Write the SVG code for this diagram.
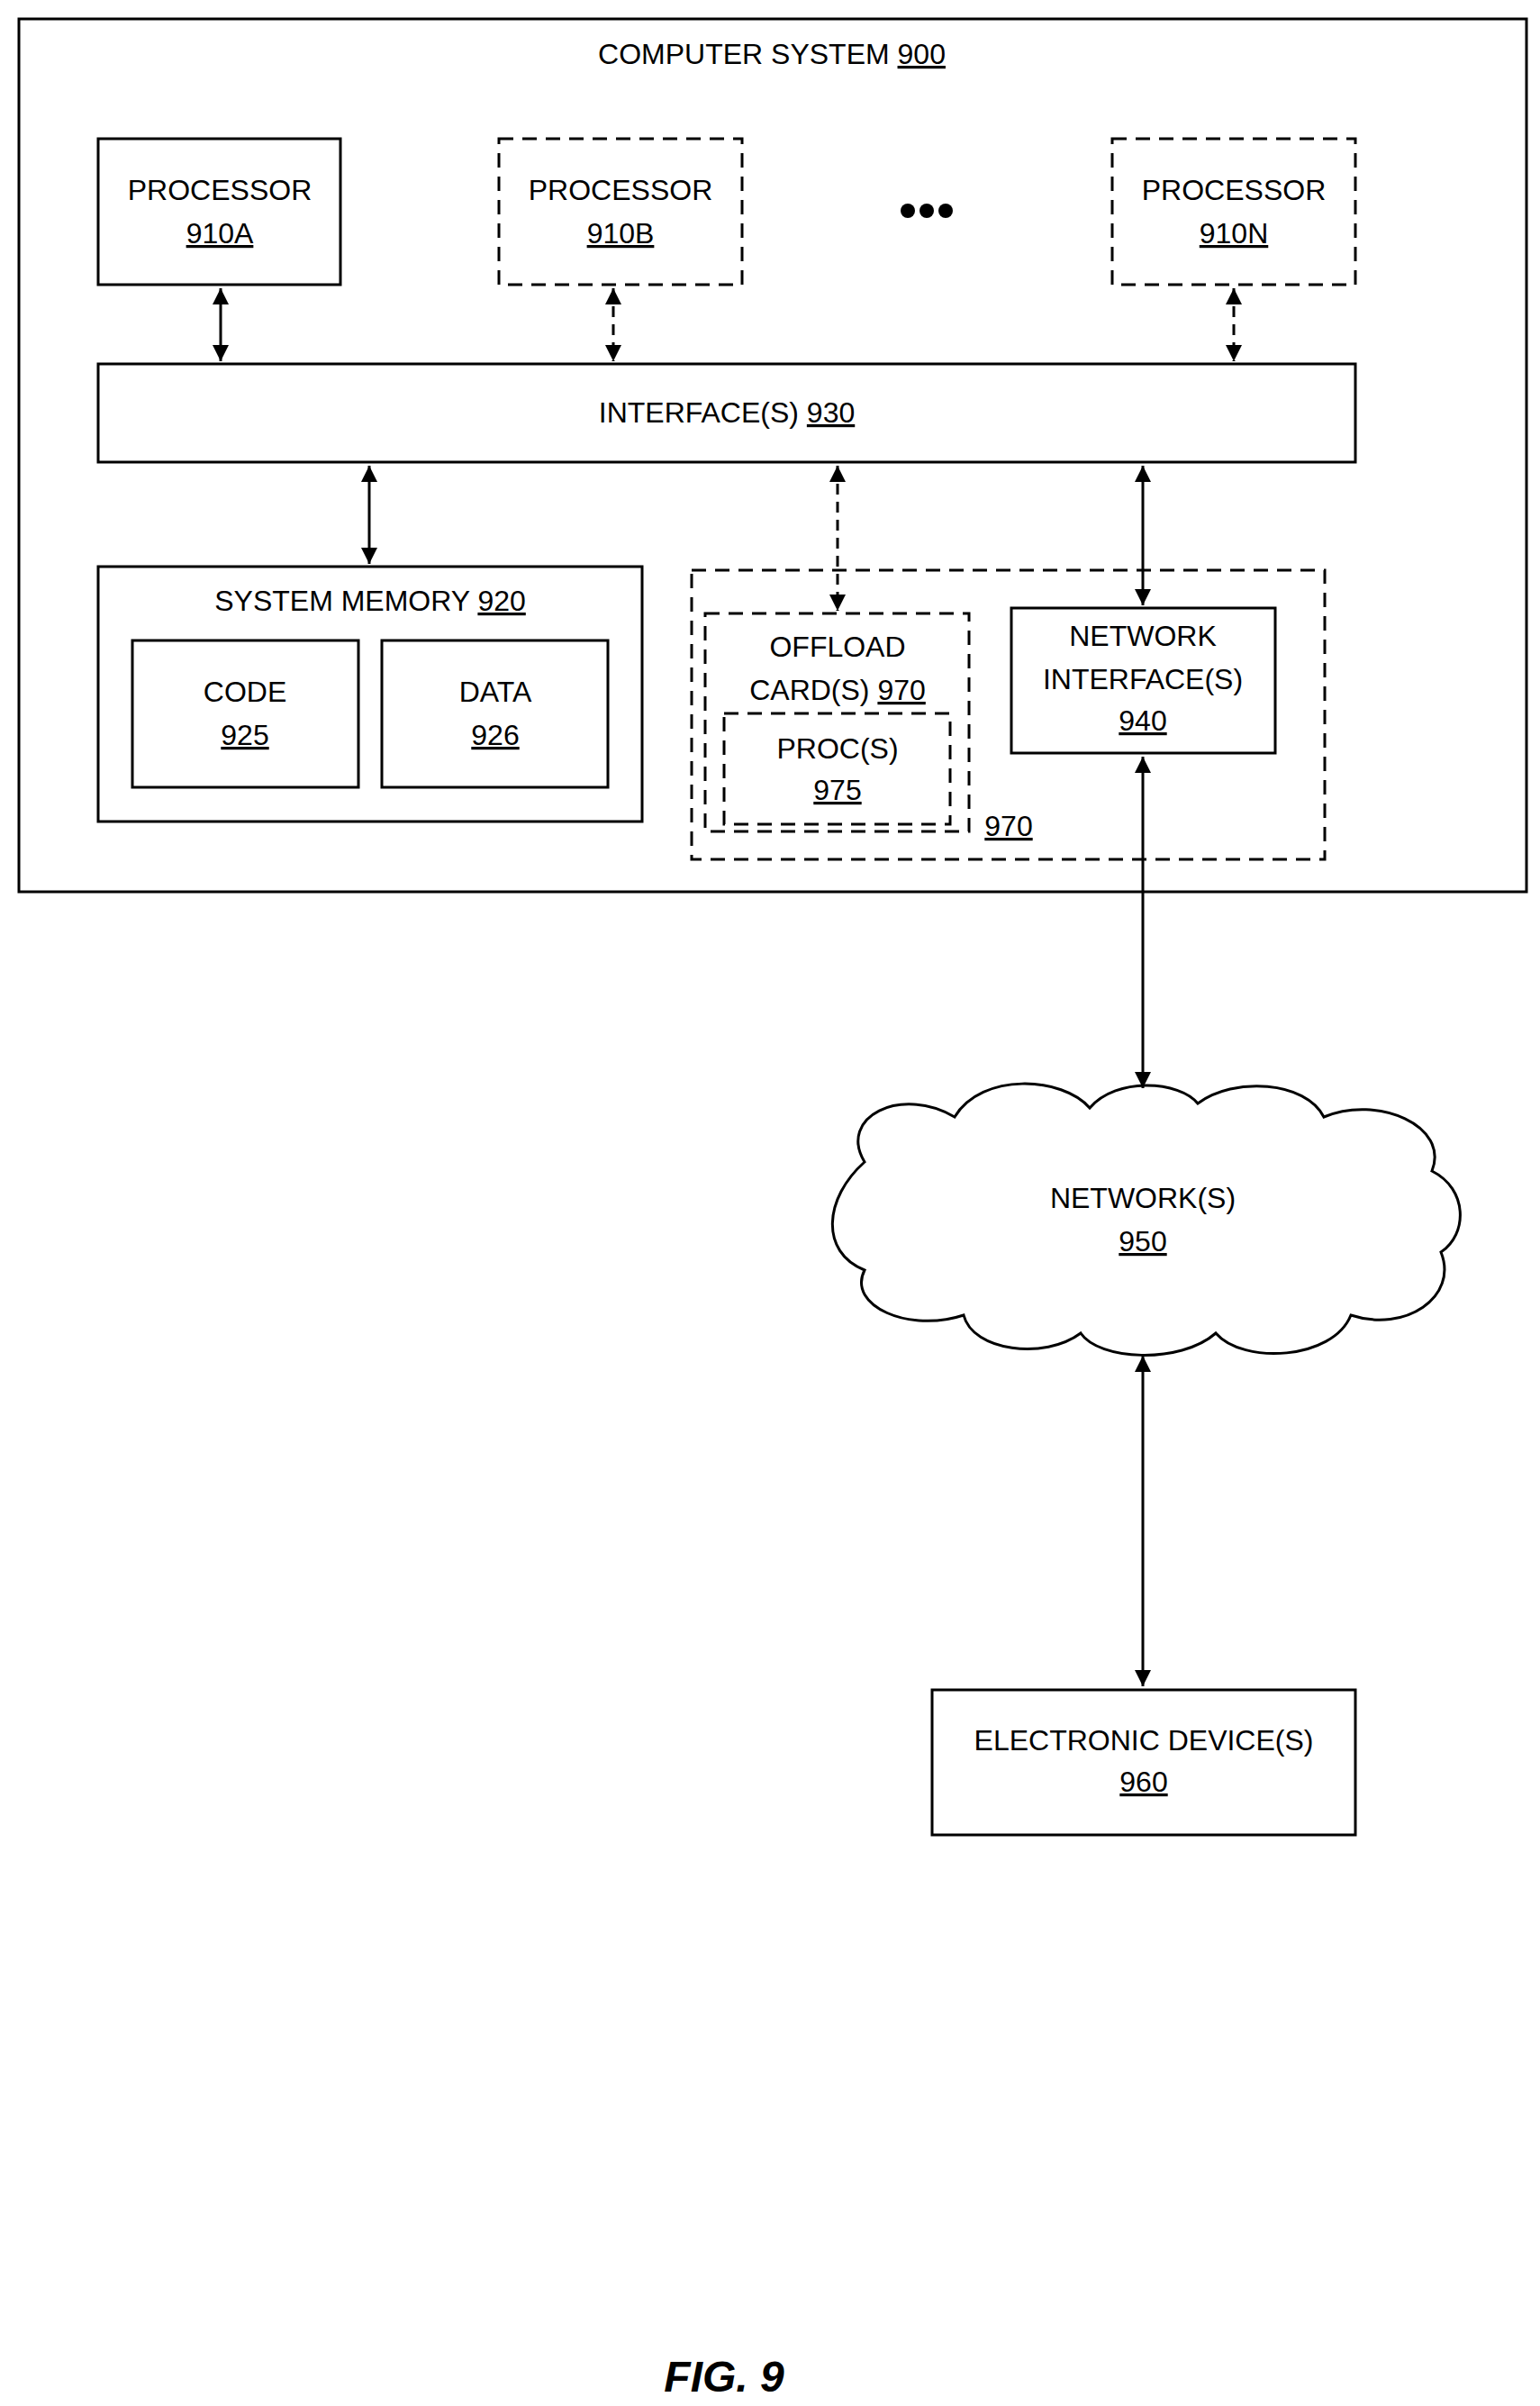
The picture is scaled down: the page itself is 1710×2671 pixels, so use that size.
<svg xmlns="http://www.w3.org/2000/svg" width="1710" height="2671" viewBox="0 0 1710 2671">
<style>
.b{fill:#fff;stroke:#000;stroke-width:3}
.d{fill:none;stroke:#000;stroke-width:3;stroke-dasharray:16 10}
.t{font-family:"Liberation Sans",Arial,sans-serif;font-size:32px;text-anchor:middle;fill:#000}
.u{text-decoration:underline}
.c{stroke:#000;stroke-width:3;fill:none;marker-start:url(#a);marker-end:url(#a)}
.cd{stroke-dasharray:12 8}
</style>
<defs><marker id="a" viewBox="0 0 10 10" refX="10" refY="5" markerWidth="6" markerHeight="8" orient="auto-start-reverse" markerUnits="strokeWidth"><path d="M0,0 L10,5 L0,10 Z" fill="#000"/></marker></defs>
<g id="computer-system"><rect class="b" x="21" y="21" width="1674" height="969"/><text class="t" x="857" y="71">COMPUTER SYSTEM <tspan class="u">900</tspan></text></g>
<g id="proc-a"><rect class="b" x="109" y="154" width="269" height="162"/><text class="t" x="244" y="222">PROCESSOR</text><text class="t u" x="244" y="270">910A</text></g>
<g id="proc-b"><rect class="d" x="554" y="154" width="270" height="162"/><text class="t" x="689" y="222">PROCESSOR</text><text class="t u" x="689" y="270">910B</text></g>
<g id="dots"><circle cx="1008" cy="234" r="8"/><circle cx="1029" cy="234" r="8"/><circle cx="1050" cy="234" r="8"/></g>
<g id="proc-n"><rect class="d" x="1235" y="154" width="270" height="162"/><text class="t" x="1370" y="222">PROCESSOR</text><text class="t u" x="1370" y="270">910N</text></g>
<g id="interface"><rect class="b" x="109" y="404" width="1396" height="109"/><text class="t" x="807" y="469">INTERFACE(S) <tspan class="u">930</tspan></text></g>
<g id="memory"><rect class="b" x="109" y="629" width="604" height="283"/><text class="t" x="411" y="678">SYSTEM MEMORY <tspan class="u">920</tspan></text>
<rect class="b" x="147" y="711" width="251" height="163"/><text class="t" x="272" y="779">CODE</text><text class="t u" x="272" y="827">925</text>
<rect class="b" x="424" y="711" width="251" height="163"/><text class="t" x="550" y="779">DATA</text><text class="t u" x="550" y="827">926</text></g>
<g id="offload-group"><rect class="d" x="768" y="633" width="703" height="321"/><text class="t u" x="1120" y="928">970</text>
<rect class="d" x="783" y="681" width="293" height="242"/><text class="t" x="930" y="729">OFFLOAD</text><text class="t" x="930" y="777">CARD(S) <tspan class="u">970</tspan></text>
<rect class="d" x="804" y="792" width="251" height="123"/><text class="t" x="930" y="842">PROC(S)</text><text class="t u" x="930" y="888">975</text></g>
<g id="netif"><rect class="b" x="1123" y="675" width="293" height="161"/><text class="t" x="1269" y="717">NETWORK</text><text class="t" x="1269" y="765">INTERFACE(S)</text><text class="t u" x="1269" y="811">940</text></g>
<g id="network"><path class="b" d="M960,1290 C930,1240 1000,1205 1060,1240 C1090,1190 1180,1195 1210,1230 C1240,1195 1310,1200 1330,1225 C1370,1195 1450,1200 1470,1240 C1530,1215 1610,1250 1590,1300 C1630,1320 1630,1370 1600,1390 C1620,1440 1560,1480 1500,1460 C1480,1510 1380,1515 1350,1480 C1310,1515 1220,1510 1200,1480 C1160,1510 1080,1500 1070,1460 C1010,1480 940,1450 960,1410 C910,1390 915,1330 960,1290 Z"/><text class="t" x="1269" y="1341">NETWORK(S)</text><text class="t u" x="1269" y="1389">950</text></g>
<g id="device"><rect class="b" x="1035" y="1876" width="470" height="161"/><text class="t" x="1270" y="1943">ELECTRONIC DEVICE(S)</text><text class="t u" x="1270" y="1989">960</text></g>
<g id="connectors">
<line class="c" x1="245" y1="320" x2="245" y2="401"/>
<line class="c cd" x1="681" y1="320" x2="681" y2="401"/>
<line class="c cd" x1="1370" y1="320" x2="1370" y2="401"/>
<line class="c" x1="410" y1="517" x2="410" y2="626"/>
<line class="c cd" x1="930" y1="517" x2="930" y2="678"/>
<line class="c" x1="1269" y1="517" x2="1269" y2="672"/>
<line class="c" x1="1269" y1="840" x2="1269" y2="1208"/>
<line class="c" x1="1269" y1="1505" x2="1269" y2="1872"/>
</g>
<text x="804" y="2655" style="font-family:'Liberation Sans',Arial,sans-serif;font-size:48px;font-weight:bold;font-style:italic;text-anchor:middle">FIG. 9</text>
</svg>
